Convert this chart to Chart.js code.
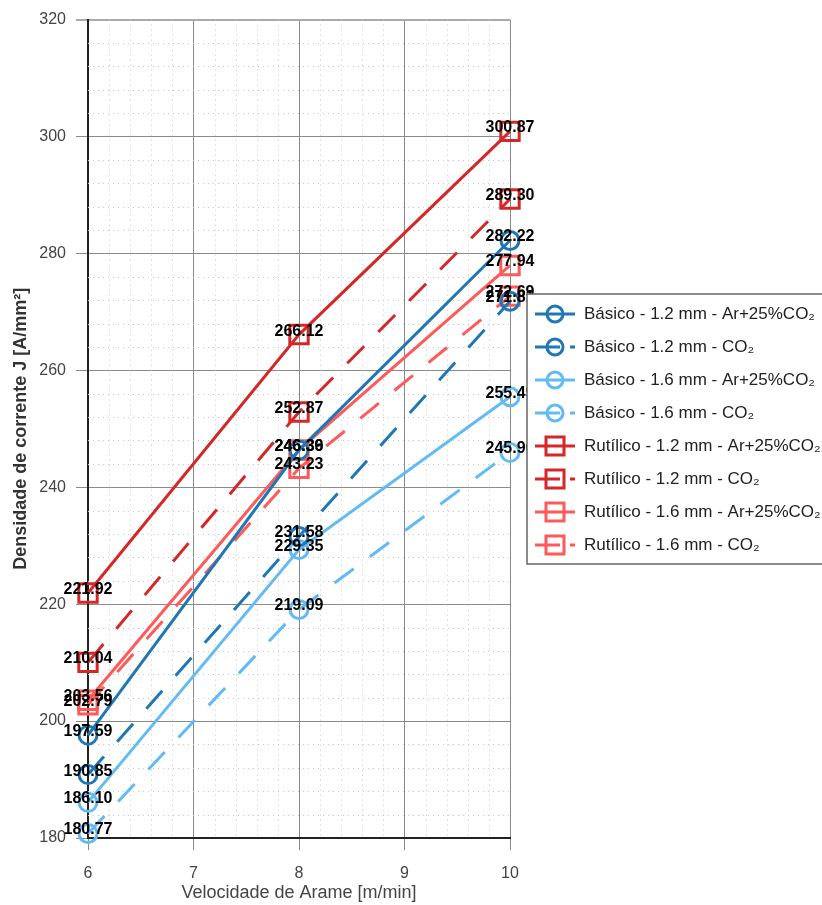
<!DOCTYPE html>
<html>
<head>
<meta charset="utf-8">
<script src="https://cdn.jsdelivr.net/npm/chart.js@4.4.0/dist/chart.umd.min.js"></script>
<style>
    body { margin: 0; background: #fff; }
    #wrap { width: 822px; height: 905px; position: relative; }
</style>
</head>
<body>
<div id="wrap"><canvas id="densityChart"></canvas></div>
<script>
// Velocidade de arame [m/min]
const velocidades = [6, 8, 10];

// Densidade de corrente J [A/mm²]
const basico12Ar = [197.59, 246.36, 282.22];
const basico12CO2 = [190.85, 231.58, 271.81];
const basico16Ar = [186.10, 229.35, 255.49];
const basico16CO2 = [180.77, 219.09, 245.96];
const rutilico12Ar = [221.92, 266.12, 300.87];
const rutilico12CO2 = [210.04, 252.87, 289.30];
const rutilico16Ar = [203.56, 246.39, 277.94];
const rutilico16CO2 = [202.79, 243.23, 272.69];

const seriesLabels = [
    'Básico - 1.2 mm - Ar+25%CO₂',
    'Básico - 1.2 mm - CO₂',
    'Básico - 1.6 mm - Ar+25%CO₂',
    'Básico - 1.6 mm - CO₂',
    'Rutílico - 1.2 mm - Ar+25%CO₂',
    'Rutílico - 1.2 mm - CO₂',
    'Rutílico - 1.6 mm - Ar+25%CO₂',
    'Rutílico - 1.6 mm - CO₂'
];

const yTicks = [180, 200, 220, 240, 260, 280, 300, 320];
const xTicks = [6, 7, 8, 9, 10];

const DARK_BLUE = '#1f77b4';
const LIGHT_BLUE = '#62bbf5';
const DARK_RED = '#d62728';
const LIGHT_RED = '#ff5959';
const DASH = [24, 20];

function makeDataset(label, values, color, dashed, shape) {
    return {
        label: label,
        data: values.map((v, i) => ({ x: velocidades[i], y: v })),
        borderColor: color,
        backgroundColor: 'transparent',
        borderWidth: 3,
        borderDash: dashed ? DASH : [],
        pointStyle: shape,
        pointRadius: shape === 'rect' ? 13 : 9,
        pointBorderWidth: 3,
        pointBorderColor: color,
        pointBackgroundColor: 'transparent',
        tension: 0,
        fill: false,
        clip: false
    };
}

// dotted minor grid (5 subdivisions per major step)
const minorGrid = {
    id: 'minorGrid',
    beforeDatasetsDraw(chart) {
        const { ctx, chartArea, scales } = chart;
        ctx.save();
        ctx.strokeStyle = '#c8c8c8';
        ctx.lineWidth = 1;
        ctx.setLineDash([1, 4]);
        for (let i = 0; i < xTicks.length - 1; i++) {
            for (let k = 1; k < 5; k++) {
                const px = Math.round(scales.x.getPixelForValue(xTicks[i] + k * 0.2)) + 0.5;
                ctx.beginPath();
                ctx.moveTo(px, chartArea.top);
                ctx.lineTo(px, chartArea.bottom);
                ctx.stroke();
            }
        }
        for (let i = 0; i < yTicks.length - 1; i++) {
            for (let k = 1; k < 5; k++) {
                const py = Math.round(scales.y.getPixelForValue(yTicks[i] + k * 4)) + 0.5;
                ctx.beginPath();
                ctx.moveTo(chartArea.left, py);
                ctx.lineTo(chartArea.right, py);
                ctx.stroke();
            }
        }
        ctx.restore();
    }
};

// value labels on top of each point
const pointLabels = {
    id: 'pointLabels',
    afterDatasetsDraw(chart) {
        const ctx = chart.ctx;
        ctx.save();
        ctx.font = 'bold 16px "Liberation Sans", Arial, sans-serif';
        ctx.fillStyle = '#000';
        ctx.textAlign = 'center';
        ctx.textBaseline = 'alphabetic';
        chart.data.datasets.forEach((ds, i) => {
            chart.getDatasetMeta(i).data.forEach((pt, j) => {
                ctx.fillText(ds.data[j].y.toFixed(2), pt.x, pt.y + 1);
            });
        });
        ctx.restore();
    }
};

// boxed legend with line + marker samples
const sideLegend = {
    id: 'sideLegend',
    afterDraw(chart) {
        const ctx = chart.ctx;
        const left = 527, top = 294, rowH = 33;
        ctx.save();
        ctx.fillStyle = '#fff';
        ctx.strokeStyle = '#666';
        ctx.lineWidth = 1.5;
        ctx.fillRect(left, top, 320, 270);
        ctx.strokeRect(left, top, 320, 270);
        ctx.font = '17px "Liberation Sans", Arial, sans-serif';
        ctx.textBaseline = 'middle';
        chart.data.datasets.forEach((ds, i) => {
            const y = top + 20 + i * rowH;
            ctx.strokeStyle = ds.borderColor;
            ctx.lineWidth = 3;
            ctx.setLineDash(ds.borderDash.length ? [25, 10] : []);
            ctx.beginPath();
            ctx.moveTo(535, y);
            ctx.lineTo(575, y);
            ctx.stroke();
            ctx.setLineDash([]);
            ctx.beginPath();
            if (ds.pointStyle === 'rect') {
                ctx.rect(546, y - 9, 18, 18);
            } else {
                ctx.arc(555, y, 8, 0, Math.PI * 2);
            }
            ctx.stroke();
            ctx.fillStyle = '#222';
            ctx.fillText(ds.label, 584, y);
        });
        ctx.restore();
    }
};

const ctx = document.getElementById('densityChart').getContext('2d');
new Chart(ctx, {
    type: 'line',
    data: {
        datasets: [
            makeDataset(seriesLabels[0], basico12Ar, DARK_BLUE, false, 'circle'),
            makeDataset(seriesLabels[1], basico12CO2, DARK_BLUE, true, 'circle'),
            makeDataset(seriesLabels[2], basico16Ar, LIGHT_BLUE, false, 'circle'),
            makeDataset(seriesLabels[3], basico16CO2, LIGHT_BLUE, true, 'circle'),
            makeDataset(seriesLabels[4], rutilico12Ar, DARK_RED, false, 'rect'),
            makeDataset(seriesLabels[5], rutilico12CO2, DARK_RED, true, 'rect'),
            makeDataset(seriesLabels[6], rutilico16Ar, LIGHT_RED, false, 'rect'),
            makeDataset(seriesLabels[7], rutilico16CO2, LIGHT_RED, true, 'rect')
        ]
    },
    options: {
        responsive: true,
        maintainAspectRatio: false,
        animation: false,
        layout: { padding: { top: 19, right: 312, left: 0, bottom: 0 } },
        plugins: {
            legend: { display: false },
            tooltip: { enabled: false }
        },
        scales: {
            x: {
                type: 'linear',
                min: 6,
                max: 10,
                afterFit: (s) => { s.height = 67; },
                ticks: {
                    stepSize: 1,
                    padding: 14,
                    color: '#444',
                    font: { family: '"Liberation Sans", Arial, sans-serif', size: 16 }
                },
                grid: { color: '#8a8a8a', lineWidth: 1, tickLength: 12 },
                border: { color: '#222', width: 2 },
                title: {
                    display: true,
                    text: 'Velocidade de Arame [m/min]',
                    color: '#444',
                    padding: { top: 0, bottom: 1 },
                    font: { family: '"Liberation Sans", Arial, sans-serif', size: 18 }
                }
            },
            y: {
                min: 180,
                max: 320,
                afterFit: (s) => { s.width = 88; },
                ticks: {
                    stepSize: 20,
                    padding: 10,
                    color: '#444',
                    font: { family: '"Liberation Sans", Arial, sans-serif', size: 16 }
                },
                grid: {
                    color: (c) => c.tick && c.tick.value === 320 ? '#aaa' : '#8a8a8a',
                    lineWidth: (c) => c.tick && c.tick.value === 320 ? 2 : 1,
                    tickLength: 12
                },
                border: { color: '#222', width: 2 },
                title: {
                    display: true,
                    text: 'Densidade de corrente J [A/mm²]',
                    color: '#333',
                    padding: { top: 10, bottom: 0 },
                    font: { family: '"Liberation Sans", Arial, sans-serif', size: 18, weight: 'bold' }
                }
            }
        }
    },
    plugins: [minorGrid, pointLabels, sideLegend]
});
</script>
</body>
</html>
